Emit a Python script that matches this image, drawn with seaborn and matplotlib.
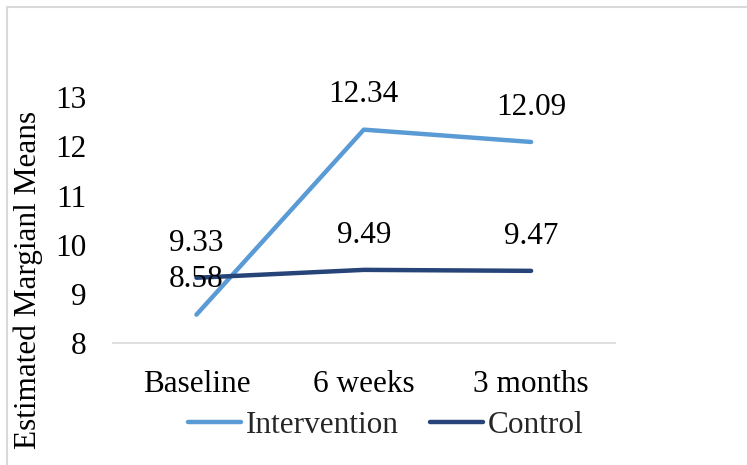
import matplotlib
matplotlib.use("Agg")
import matplotlib.pyplot as plt
import seaborn as sns
import pandas as pd
from matplotlib.lines import Line2D

categories = ["Baseline", "6 weeks", "3 months"]
intervention = [8.58, 12.34, 12.09]
control = [9.33, 9.49, 9.47]
series_names = ["Intervention", "Control"]
colors = {"Intervention": "#5B9BD5", "Control": "#264478"}
y_ticks = [8, 9, 10, 11, 12, 13]

df = pd.DataFrame({
    "time": categories * 2,
    "x": list(range(len(categories))) * 2,
    "value": intervention + control,
    "group": [series_names[0]] * 3 + [series_names[1]] * 3,
})

sns.set_theme(style="white")
plt.rcParams["font.family"] = ["Liberation Serif", "DejaVu Serif"]

FS = 22.5
fig = plt.figure(figsize=(7.47, 4.65), dpi=100)
ax = fig.add_axes([0.151, 0.262, 0.672, 0.529])

sns.lineplot(data=df, x="x", y="value", hue="group", palette=colors,
             linewidth=3.2, ax=ax, legend=False, sort=False,
             solid_capstyle="round")

for name, vals in zip(series_names, [intervention, control]):
    for i, v in enumerate(vals):
        ax.annotate(f"{v:.2f}", (i, v), xytext=(0, 25), textcoords="offset points",
                    ha="center", va="center", fontsize=FS, color="black")

ax.set_xlim(-0.5, 2.5)
ax.set_ylim(8, 13)
ax.set_yticks(y_ticks)
ax.set_xticks(range(len(categories)))
ax.set_xticklabels(categories)
ax.tick_params(axis="both", length=0, labelsize=FS, colors="black")
ax.tick_params(axis="y", pad=19)
ax.tick_params(axis="x", pad=19)
ax.set_xlabel("")
ax.set_ylabel("")
for s in ["top", "right", "left"]:
    ax.spines[s].set_visible(False)
ax.spines["bottom"].set_color("#D9D9D9")
ax.spines["bottom"].set_linewidth(1.2)
ax.set_facecolor("white")

fig.text(28 / 747, 1 - 280 / 465, "Estimated Margianl Means", rotation=90,
         ha="center", va="center", fontsize=FS, color="black")

handles = [Line2D([0], [0], color=colors[n], lw=3.2, solid_capstyle="round") for n in series_names]
fig.legend(handles, series_names, loc="center", bbox_to_anchor=(386 / 747, 1 - 425 / 465),
           ncol=2, frameon=False, fontsize=FS, handlelength=1.7, handletextpad=0.15,
           columnspacing=1.0)

# chart border (top and left visible)
fig.add_artist(Line2D([7 / 747, 1.0], [1 - 7 / 465, 1 - 7 / 465], color="#D9D9D9", lw=1.5,
                      transform=fig.transFigure))
fig.add_artist(Line2D([7 / 747, 7 / 747], [0, 1 - 7 / 465], color="#D9D9D9", lw=1.5,
                      transform=fig.transFigure))

fig.savefig("out.png", dpi=100, facecolor="white")
